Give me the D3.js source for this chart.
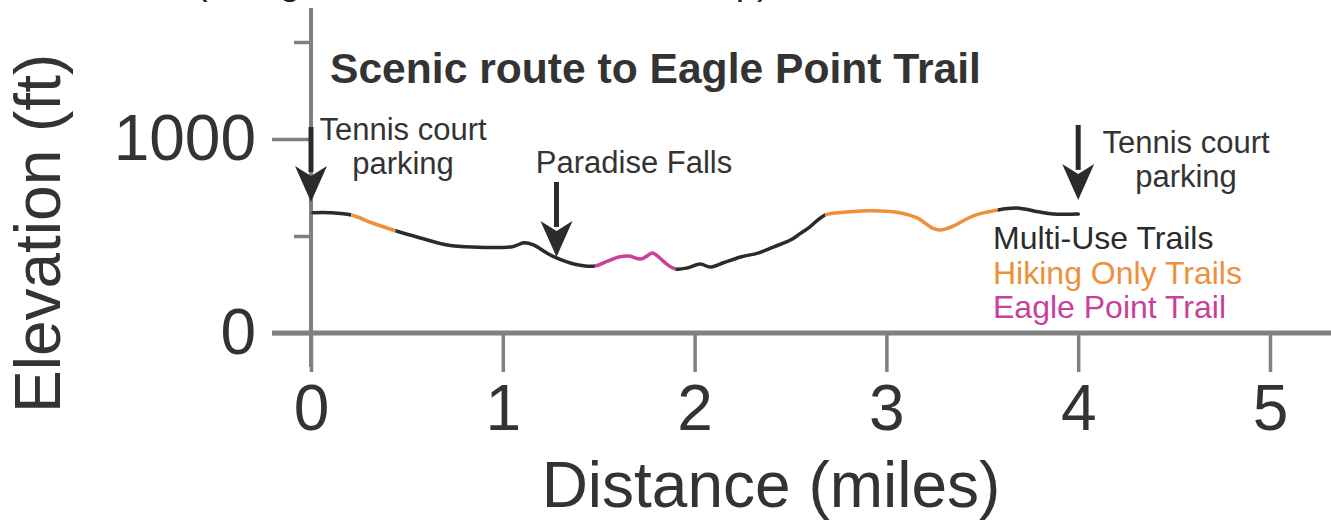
<!DOCTYPE html>
<html>
<head>
<meta charset="utf-8">
<script src="https://cdn.jsdelivr.net/npm/d3@7"></script>
<style>
  body { margin: 0; background: #fff; }
  svg { display: block; font-family: "Liberation Sans", Arial, sans-serif; }
</style>
</head>
<body>
<svg id="chart"></svg>
<script>
// route profile
var distance = [0.01, 0.10, 0.21, 0.32, 0.44, 0.57, 0.71, 0.84, 1.05, 1.11, 1.16, 1.23, 1.28, 1.37,
    1.48, 1.54, 1.61, 1.66, 1.72, 1.78, 1.80, 1.86, 1.90, 1.96, 2.03, 2.08, 2.15, 2.24, 2.33, 2.41,
    2.50, 2.55, 2.60, 2.68, 2.81, 2.93, 3.07, 3.16, 3.24, 3.28, 3.35, 3.45, 3.58, 3.68, 3.79, 3.87, 4.00];
var elevation = [620, 620, 608, 567, 527, 490, 454, 443, 445, 465, 454, 412, 387, 356,
    345, 368, 393, 397, 381, 412, 402, 351, 330, 335, 356, 340, 362, 392, 412, 443,
    479, 512, 546, 608, 625, 630, 620, 593, 541, 531, 552, 603, 634, 644, 625, 613, 613];

// trail type along the route: [from, to, type]
var segments = [
    [0.00, 0.21, "multi"],
    [0.21, 0.44, "hiking"],
    [0.44, 1.48, "multi"],
    [1.48, 1.90, "eagle"],
    [1.90, 2.68, "multi"],
    [2.68, 3.58, "hiking"],
    [3.58, 4.00, "multi"]
];

var legendNames = ["Multi-Use Trails", "Hiking Only Trails", "Eagle Point Trail"];
var legendTypes = ["multi", "hiking", "eagle"];
var colors = { multi: "#2b2b2b", hiking: "#ee8f3a", eagle: "#c93f9c" };

// arrows: distance, tip elevation, label lines
var markDist = [0, 1.28, 4.0];
var markElev = [675, 392, 686];
var markLabel = [["Tennis court", "parking"], ["Paradise Falls"], ["Tennis court", "parking"]];

var xTicks = [0, 1, 2, 3, 4, 5];
var yMajor = [0, 1000];
var yMinor = [500, 1500];

var width = 1331, height = 523;
var gray = "#808080", ink = "#333333";

var svg = d3.select("#chart").attr("width", width).attr("height", height);

var x = d3.scaleLinear().domain([0, 5]).range([311, 1270]);
var y = d3.scaleLinear().domain([0, 1000]).range([333, 139]);

// cut-off caption at the very top
svg.append("text")
    .attr("x", 195)
    .attr("y", -6)
    .style("font-size", "38px")
    .attr("fill", "#222")
    .text("(along the trail shown on the map)");

// axis lines
svg.append("line")
    .attr("x1", 272).attr("x2", width)
    .attr("y1", y(0)).attr("y2", y(0))
    .attr("stroke", gray).attr("stroke-width", 5);
svg.append("line")
    .attr("x1", x(0)).attr("x2", x(0))
    .attr("y1", y(1675)).attr("y2", 367)
    .attr("stroke", gray).attr("stroke-width", 4);

var xAxis = svg.append("g")
    .attr("transform", "translate(0," + y(0) + ")")
    .call(d3.axisBottom(x).tickValues(xTicks).tickSize(39).tickPadding(13).tickFormat(d3.format("d")));
var yAxis = svg.append("g")
    .attr("transform", "translate(" + x(0) + ",0)")
    .call(d3.axisLeft(y).tickValues(yMajor).tickSize(39).tickPadding(16).tickFormat(d3.format("d")));
var yAxisMinor = svg.append("g")
    .attr("transform", "translate(" + x(0) + ",0)")
    .call(d3.axisLeft(y).tickValues(yMinor).tickSize(17).tickFormat(""));

[xAxis, yAxis, yAxisMinor].forEach(function(g) {
    g.select(".domain").remove();
    g.selectAll(".tick line").attr("stroke", gray).attr("stroke-width", 3.5);
    g.selectAll(".tick text")
        .attr("fill", ink)
        .style("font-size", "64px")
        .style("font-family", "'Liberation Sans', Arial, sans-serif");
});

// axis titles
svg.append("text")
    .attr("x", 771).attr("y", 507)
    .attr("text-anchor", "middle")
    .attr("fill", ink)
    .style("font-size", "64px")
    .text("Distance (miles)");
svg.append("text")
    .attr("transform", "translate(60,413) rotate(-90)")
    .attr("fill", ink)
    .style("font-size", "64px")
    .text("Elevation (ft)");

// chart title
svg.append("text")
    .attr("x", 330).attr("y", 83)
    .attr("fill", ink)
    .style("font-size", "42.6px")
    .style("font-weight", "bold")
    .text("Scenic route to Eagle Point Trail");

// profile: one smooth curve, coloured per trail segment through clip rects
var points = distance.map(function(d, i) { return [d, elevation[i]]; });
var line = d3.line()
    .x(function(d) { return x(d[0]); })
    .y(function(d) { return y(d[1]); })
    .curve(d3.curveCatmullRom);

var defs = svg.append("defs");
segments.forEach(function(s, i) {
    defs.append("clipPath")
        .attr("id", "seg" + i)
        .append("rect")
        .attr("x", i === 0 ? 0 : x(s[0]))
        .attr("width", i === segments.length - 1 ? width : x(s[1]) - (i === 0 ? 0 : x(s[0])))
        .attr("y", 0)
        .attr("height", height);
    svg.append("path")
        .datum(points)
        .attr("d", line)
        .attr("clip-path", "url(#seg" + i + ")")
        .attr("fill", "none")
        .attr("stroke", colors[s[2]])
        .attr("stroke-width", 3.5)
        .attr("stroke-linecap", "round");
});

// arrows with labels
var labelPos = [
    { x: 403, y: 140 },
    { x: 634, y: 173 },
    { x: 1186, y: 153 }
];
markDist.forEach(function(d, i) {
    var ax = x(d), tip = y(markElev[i]);
    svg.append("line")
        .attr("x1", ax).attr("x2", ax)
        .attr("y1", tip - 75).attr("y2", tip - 30)
        .attr("stroke", "#2b2b2b").attr("stroke-width", 5);
    svg.append("path")
        .attr("d", "M" + (ax - 16) + "," + (tip - 36) + "L" + ax + "," + (tip - 26) +
            "L" + (ax + 16) + "," + (tip - 36) + "L" + ax + "," + tip + "Z")
        .attr("fill", "#2b2b2b");
    var t = svg.append("text")
        .attr("x", labelPos[i].x).attr("y", labelPos[i].y)
        .attr("text-anchor", "middle")
        .attr("fill", ink)
        .style("font-size", "31px");
    markLabel[i].forEach(function(s, j) {
        t.append("tspan").attr("x", labelPos[i].x).attr("dy", j ? 34 : 0).text(s);
    });
});

// legend
svg.selectAll(".legend")
    .data(legendNames)
    .enter().append("text")
    .attr("class", "legend")
    .attr("x", 993)
    .attr("y", function(d, i) { return 249 + i * 34.5; })
    .attr("fill", function(d, i) { return colors[legendTypes[i]]; })
    .style("font-size", "32px")
    .text(function(d) { return d; });
</script>
</body>
</html>
